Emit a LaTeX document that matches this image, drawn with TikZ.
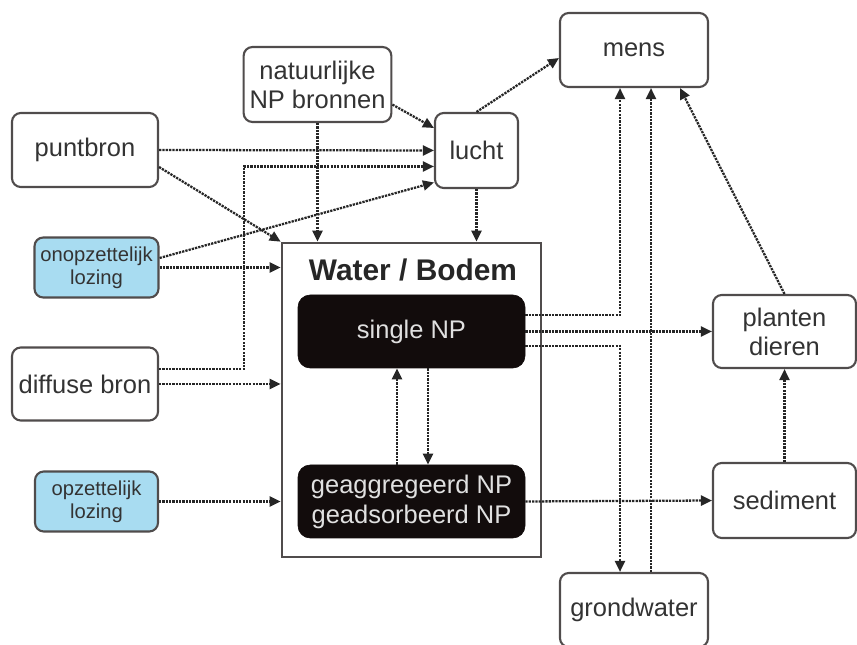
\documentclass[tikz,border=0pt]{standalone}
\usepackage{fontspec}
\setmainfont{Liberation Sans}
\usepackage{xcolor}
\usepackage{tikz}
\usetikzlibrary{arrows.meta}
\definecolor{lozblue}{RGB}{168,220,241}
\definecolor{boxline}{RGB}{80,76,76}
\definecolor{npblack}{RGB}{18,12,12}

\begin{document}
\begin{tikzpicture}[
    box/.style={draw=boxline, line width=1.2pt, rounded corners=5pt, align=center, text=black!80, font=\fontsize{14.5}{16.5}\selectfont},
    lozing/.style={box, fill=lozblue, minimum width=2.46cm, minimum height=1.2cm, font=\fontsize{11.5}{13}\selectfont},
    npbox/.style={draw=npblack, fill=npblack, rounded corners=7pt, minimum width=4.54cm, minimum height=1.46cm, align=center, text=black!12, font=\fontsize{14.5}{17}\selectfont},
    flow/.style={line width=1.3pt, black!85, dash pattern=on 1.3pt off 0.6pt, -{Triangle[length=0.22cm, width=0.2cm]}}
]
\useasboundingbox (0,0) rectangle (17.14,12.9);
\node[box, minimum width=2.9cm, minimum height=1.5cm] (nat) at (6.35, 11.21) {natuurlijke\\NP bronnen};
\node[box, minimum width=2.92cm, minimum height=1.48cm] (punt) at (1.70, 9.90) {puntbron};
\node[box, minimum width=1.66cm, minimum height=1.5cm] (lucht) at (9.53, 9.89) {lucht};
\node[box, minimum width=2.96cm, minimum height=1.48cm] (mens) at (12.68, 11.90) {mens};
\node[lozing] (onop) at (1.93, 7.55) {onopzettelijk\\lozing};
\node[box, minimum width=2.92cm, minimum height=1.46cm] (diff) at (1.70, 5.22) {diffuse bron};
\node[lozing] (opz) at (1.93, 2.87) {opzettelijk\\lozing};

\node[draw=boxline, line width=1.5pt, minimum width=5.18cm, minimum height=6.28cm] (water) at (8.23, 4.90) {};
\node[font=\fontsize{17}{19}\selectfont\bfseries, text=black!85] (wlabel) at (8.26, 7.50) {Water / Bodem};
\node[npbox] (single) at (8.23, 6.27) {single NP};
\node[npbox] (geagg) at (8.23, 2.87) {geaggregeerd NP\\geadsorbeerd NP};

\node[box, minimum width=2.86cm, minimum height=1.46cm] (plant) at (15.69, 6.27) {planten\\dieren};
\node[box, minimum width=2.86cm, minimum height=1.5cm] (sed) at (15.69, 2.89) {sediment};
\node[box, minimum width=2.96cm, minimum height=1.48cm] (grond) at (12.68, 0.70) {grondwater};

\draw[flow] (nat.-15) -- ([yshift=0.45cm]lucht.west);
\draw[flow] (punt.east) -- (lucht.west);
\draw[flow] ([yshift=0.3cm]diff.east) -- ++(1.7,0) |- ([yshift=-0.32cm]lucht.west);
\draw[flow] ([yshift=0.19cm]onop.east) -- ([yshift=-0.64cm]lucht.west);
\draw[flow] ([yshift=-0.34cm]punt.east) -- (water.north west);
\draw[flow] (nat.south) -- (nat.south |- water.north);
\draw[flow] (lucht.south) -- (lucht.south |- water.north);
\draw[flow] (onop.east) -- (onop.east -| water.west);
\draw[flow] (diff.east) -- (diff.east -| water.west);
\draw[flow] (opz.east) -- (opz.east -| water.west);
\draw[flow] (lucht.north) -- ([yshift=-0.16cm]mens.west);
\draw[flow] ([yshift=0.33cm]single.east) -| ([xshift=-0.28cm]mens.south);
\draw[flow] ([xshift=0.34cm]grond.north) -- ([xshift=0.34cm]mens.south);
\draw[flow] (plant.north) -- ([xshift=0.92cm]mens.south);
\draw[flow] (single.east) -- (plant.west);
\draw[flow] ([yshift=-0.29cm]single.east) -| ([xshift=-0.28cm]grond.north);
\draw[flow] (geagg.east) -- (sed.west);
\draw[flow] (sed.north) -- (plant.south);
\draw[flow] ([xshift=-0.29cm]geagg.north) -- ([xshift=-0.29cm]single.south);
\draw[flow] ([xshift=0.33cm]single.south) -- ([xshift=0.33cm]geagg.north);
\end{tikzpicture}
\end{document}
